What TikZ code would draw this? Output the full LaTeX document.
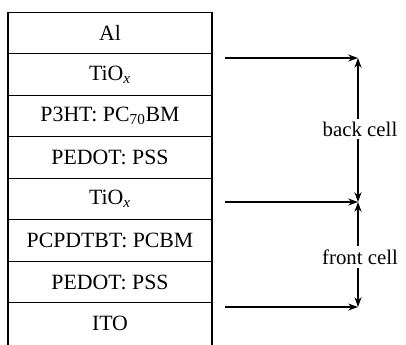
\documentclass[tikz,border=0pt]{standalone}
\usepackage{fontspec}
\setmainfont{Liberation Serif}
\usepackage{tikz}
\usetikzlibrary{arrows.meta}

\tikzset{
  layer/.style={draw, line width=0.9pt, minimum width=5.1cm, minimum height=1.0375cm,
    inner sep=0pt, font=\fontsize{15.5}{17}\selectfont},
  celllabel/.style={inner sep=2pt, font=\fontsize{14.8}{16}\selectfont},
  pointer/.style={line width=0.8pt, -{Stealth[length=7pt,width=5pt]}}
}

\begin{document}
\begin{tikzpicture}[x=0.025cm, y=-0.025cm]
      \useasboundingbox (0,0) rectangle (406,344);

      % layer stack
      \node[layer] (al)     at (110, 33.0)  {Al};
      \node[layer] (tiob)   at (110, 74.5)  {TiO\textsubscript{\textit{x}}};
      \node[layer] (p3ht)   at (110, 116.0) {P3HT: PC\textsubscript{70}BM};
      \node[layer] (pedotb) at (110, 157.5) {PEDOT: PSS};
      \node[layer] (tiof)   at (110, 199.0) {TiO\textsubscript{\textit{x}}};
      \node[layer] (pcpd)   at (110, 240.5) {PCPDTBT: PCBM};
      \node[layer] (pedotf) at (110, 282.0) {PEDOT: PSS};
      \node[layer, minimum height=1.2cm] (ito) at (110, 326.75) {};
      \node[font=\fontsize{15.5}{17}\selectfont] (itotext) at (110, 323.5) {ITO};

      % contacts
      \coordinate (topstart) at (225, 58);
      \coordinate (topend)   at (358, 58);
      \coordinate (midstart) at (225, 202);
      \coordinate (midend)   at (358, 202);
      \coordinate (botstart) at (225, 307);
      \coordinate (botend)   at (358, 307);

      \draw [pointer] (topstart) -- (topend);
      \draw [pointer] (midstart) -- (midend);
      \draw [pointer] (botstart) -- (botend);

      % sub-cells
      \node[celllabel] (back)  at (360, 129) {back cell};
      \node[celllabel] (front) at (360, 257) {front cell};

      \draw [pointer] (back.north -| topend) -- (topend);
      \draw [pointer] (back.south -| midend) -- (midend);
      \draw [pointer] (front.north -| midend) -- (midend);
      \draw [pointer] (front.south -| botend) -- (botend);
    \end{tikzpicture}
\end{document}
